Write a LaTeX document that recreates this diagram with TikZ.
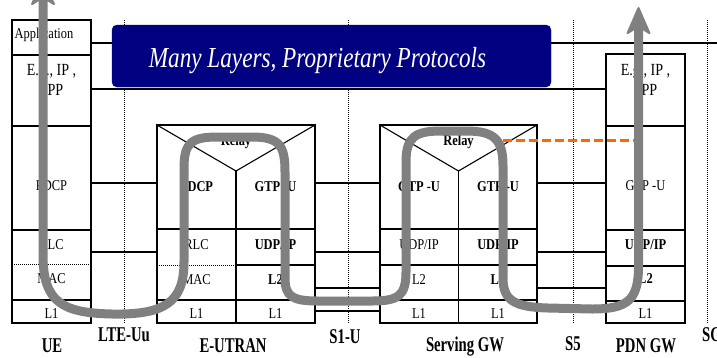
\documentclass[tikz,border=0pt]{standalone}
\usepackage{fontspec}
\setmainfont{Liberation Serif}
\newfontfamily\stkfont{Liberation Serif}[FakeStretch=0.83]
\newfontfamily\btmfont{Liberation Serif}[FakeStretch=0.70]
\newfontfamily\banfont{Liberation Serif}[FakeStretch=0.80]
\usetikzlibrary{arrows.meta}
\definecolor{navyband}{HTML}{000080}
\definecolor{flowgray}{HTML}{808080}
\definecolor{relayorange}{HTML}{FF6600}
\begin{document}
\begin{tikzpicture}[x=1pt,y=-1pt,
  layer/.style={draw, line width=1.1pt, inner sep=0pt, outer sep=0pt, anchor=north west},
  boxline/.style={line width=1.1pt},
  conn/.style={line width=1.5pt},
  iface/.style={line width=0.9pt, dash pattern=on 1pt off 1pt},
  sepline/.style={line width=1pt, dash pattern=on 1pt off 1pt},
  st/.style={font=\stkfont\fontsize{15}{15}\selectfont, anchor=base, inner sep=0pt},
  stb/.style={font=\stkfont\bfseries\fontsize{15}{15}\selectfont, anchor=base, inner sep=0pt},
  stbig/.style={font=\stkfont\fontsize{17}{17}\selectfont, anchor=base, inner sep=0pt},
  btm/.style={font=\btmfont\bfseries\fontsize{21}{21}\selectfont, anchor=base, inner sep=0pt},
  flow/.style={draw=flowgray, line width=9pt, line join=round,
    arrows={Stealth[length=30pt,width=26pt,inset=8pt,round,line width=2pt]-Stealth[length=30pt,width=26pt,inset=8pt,round,line width=2pt]}}
]
\useasboundingbox (0,0) rectangle (717,357);
\clip (0,0) rectangle (717,357);

% helper coordinates for horizontal levels
\coordinate (l43) at (0,43);
\coordinate (l89) at (0,89);
\coordinate (l183) at (0,183);
\coordinate (l252) at (0,252);
\coordinate (l264) at (0,264);
\coordinate (l265) at (0,265);
\coordinate (l288) at (0,288);
\coordinate (l311) at (0,311);
\coordinate (rimend) at (717,43);

% ---------- UE ----------
\node[layer, minimum width=79pt, minimum height=35pt] (ueapp) at (12,20) {};
\node[layer, minimum width=79pt, minimum height=71pt] (ueip) at (12,55) {};
\node[layer, minimum width=79pt, minimum height=104pt] (uepdcp) at (12,126) {};
\node[layer, minimum width=79pt, minimum height=70pt] (uerm) at (12,230) {};
\node[layer, minimum width=79pt, minimum height=23pt] (uel1) at (12,300) {};
\draw[sepline] (uerm.west |- l264) -- (uerm.east |- l264);

% ---------- E-UTRAN ----------
\node[layer, minimum width=158pt, minimum height=104pt] (enbtop) at (157,125) {};
\coordinate (enbv) at (236,171);
\draw[boxline] (enbtop.north west) -- (enbv) -- (enbtop.north east);
\draw[boxline] (enbv) -- (enbtop.south);
\node[layer, minimum width=79pt, minimum height=71pt] (enbrm) at (157,229) {};
\node[layer, minimum width=79pt, minimum height=36pt] (enbudp) at (236,229) {};
\node[layer, minimum width=79pt, minimum height=35pt] (enbl2) at (236,265) {};
\node[layer, minimum width=79pt, minimum height=23pt] (enbl1a) at (157,300) {};
\node[layer, minimum width=79pt, minimum height=23pt] (enbl1b) at (236,300) {};
\draw[sepline] (enbrm.west |- l265) -- (enbrm.east |- l265);

% ---------- Serving GW ----------
\node[layer, minimum width=157pt, minimum height=104pt] (sgwtop) at (380,125) {};
\coordinate (sgwv) at (458.5,171);
\draw[boxline] (sgwtop.north west) -- (sgwv) -- (sgwtop.north east);
\draw[boxline] (sgwv) -- (sgwtop.south);
\node[layer, minimum width=78.5pt, minimum height=36pt] (sgwudpa) at (380,229) {};
\node[layer, minimum width=78.5pt, minimum height=36pt] (sgwudpb) at (458.5,229) {};
\node[layer, minimum width=78.5pt, minimum height=35pt] (sgwl2a) at (380,265) {};
\node[layer, minimum width=78.5pt, minimum height=35pt] (sgwl2b) at (458.5,265) {};
\node[layer, minimum width=78.5pt, minimum height=23pt] (sgwl1a) at (380,300) {};
\node[layer, minimum width=78.5pt, minimum height=23pt] (sgwl1b) at (458.5,300) {};

% ---------- PDN GW ----------
\node[layer, minimum width=79pt, minimum height=72pt] (pdnip) at (606,54) {};
\node[layer, minimum width=79pt, minimum height=104pt] (pdngtp) at (606,126) {};
\node[layer, minimum width=79pt, minimum height=36pt] (pdnudp) at (606,230) {};
\node[layer, minimum width=79pt, minimum height=35pt] (pdnl2) at (606,266) {};
\node[layer, minimum width=79pt, minimum height=22pt] (pdnl1) at (606,301) {};

% ---------- connectors ----------
\draw[conn] (ueapp.east |- l43) -- (rimend);
\draw[conn] (ueip.east |- l89) -- (pdnip.west |- l89);
\draw[conn] (uepdcp.east |- l183) -- (enbtop.west |- l183);
\draw[conn] (uerm.east |- l252) -- (enbrm.west |- l252);
\draw[conn] (enbtop.east |- l183) -- (sgwtop.west |- l183);
\draw[conn] (enbudp.east |- l252) -- (sgwudpa.west |- l252);
\draw[conn] (enbl2.east |- l288) -- (sgwl2a.west |- l288);
\draw[conn] (enbl1b.east |- l311) -- (sgwl1a.west |- l311);
\draw[conn] (sgwtop.east |- l183) -- (pdngtp.west |- l183);
\draw[conn] (sgwudpb.east |- l252) -- (pdnudp.west |- l252);
\draw[conn] (sgwl2b.east |- l288) -- (pdnl2.west |- l288);

% ---------- interface dotted lines ----------
\coordinate (uutop) at (124,20);  \coordinate (uubot) at (124,323);
\coordinate (s1top) at (348,20);  \coordinate (s1bot) at (348,323);
\coordinate (s5top) at (573,20);  \coordinate (s5bot) at (573,323);
\coordinate (sgitop) at (707,20); \coordinate (sgibot) at (707,323);
\draw[iface] (uutop) -- (uubot);
\draw[iface] (s1top) -- (s1bot);
\draw[iface] (s5top) -- (s5bot);
\draw[iface] (sgitop) -- (sgibot);

% ---------- banner ----------
\node[draw=navyband, fill=navyband, rounded corners=5pt, minimum width=439pt,
      minimum height=62pt, inner sep=0pt] (banner) at (331.5,56) {};
\node[font=\banfont\itshape\fontsize{29}{29}\selectfont, text=white, anchor=base,
      inner sep=0pt] (bannertext) at (317.5,67) {Many Layers, Proprietary Protocols};

% ---------- stack texts ----------
\node[st] (tapp) at (44,38) {Application};
\node[stbig] (tueip1) at (51.5,75) {E.g., IP ,};
\node[stbig] (tueip2) at (51.5,95) {PPP};
\node[st] (tuepdcp) at (51.5,190) {PDCP};
\node[st] (tuerlc) at (51.5,249) {RLC};
\node[st] (tuemac) at (51.5,283) {MAC};
\node[st] (tuel1) at (51.5,318) {L1};

\node[stb] (tenbrelay) at (236,145) {Relay};
\node[stb] (tenbpdcp) at (196.5,191) {PDCP};
\node[stb] (tenbgtp) at (275.5,191) {GTP -U};
\node[st] (tenbrlc) at (196.5,249) {RLC};
\node[stb] (tenbudp) at (275.5,249) {UDP/IP};
\node[st] (tenbmac) at (196.5,284) {MAC};
\node[stb] (tenbl2) at (275.5,284) {L2};
\node[st] (tenbl1a) at (196.5,318) {L1};
\node[st] (tenbl1b) at (275.5,318) {L1};

\node[stb] (tsgwrelay) at (458.5,145) {Relay};
\node[stb] (tsgwgtpa) at (419,191) {GTP -U};
\node[stb] (tsgwgtpb) at (498,191) {GTP -U};
\node[st] (tsgwudpa) at (419,249) {UDP/IP};
\node[stb] (tsgwudpb) at (498,249) {UDP/IP};
\node[st] (tsgwl2a) at (419,284) {L2};
\node[stb] (tsgwl2b) at (498,284) {L2};
\node[st] (tsgwl1a) at (419,318) {L1};
\node[st] (tsgwl1b) at (498,318) {L1};

\node[stbig] (tpdnip1) at (645.5,75) {E.g., IP ,};
\node[stbig] (tpdnip2) at (645.5,95) {PPP};
\node[st] (tpdngtp) at (645.5,190) {GTP -U};
\node[stb] (tpdnudp) at (645.5,249) {UDP/IP};
\node[stb] (tpdnl2) at (645.5,283) {L2};
\node[st] (tpdnl1) at (645.5,318) {L1};

% ---------- bottom labels ----------
\node[btm] (bue) at (52,352) {UE};
\node[btm] (buu) at (124,341) {LTE-Uu};
\node[btm] (benb) at (233,352) {E-UTRAN};
\node[btm] (bs1) at (345,343) {S1-U};
\node[btm] (bsgw) at (465,351) {Serving GW};
\node[btm] (bs5) at (573,350) {S5};
\node[btm] (bpdn) at (646,352) {PDN GW};
\node[btm, anchor=base west] (bsgi) at (702,341) {SGi};

% ---------- relay dashed link ----------
\coordinate (relayfrom) at (503,140);
\coordinate (relayto) at (636,140);
\draw[relayorange, line width=3pt, dash pattern=on 9pt off 4pt] (relayfrom) -- (relayto);

% ---------- user plane flow ----------
\coordinate (flowstart) at (43,-22);
\coordinate (flowend) at (638.5,7);
\draw[flow] (flowstart) -- (43,255)
  .. controls (43,302) and (62,313) .. (112,314)
  .. controls (165,315) and (184,302) .. (184,262)
  -- (184,168)
  .. controls (184,142) and (192,137) .. (218,137)
  -- (252,137)
  .. controls (280,137) and (285,146) .. (285,172)
  -- (285,278)
  .. controls (285,297) and (293,301) .. (318,301)
  -- (372,301)
  .. controls (398,301) and (406,296) .. (406,272)
  -- (406,162)
  .. controls (406,136) and (416,131) .. (442,131)
  -- (466,131)
  .. controls (494,131) and (503,139) .. (503,166)
  -- (503,278)
  .. controls (503,301) and (515,307) .. (548,308)
  -- (592,309)
  .. controls (628,309) and (638.5,300) .. (638.5,266)
  -- (flowend);
\end{tikzpicture}
\end{document}
